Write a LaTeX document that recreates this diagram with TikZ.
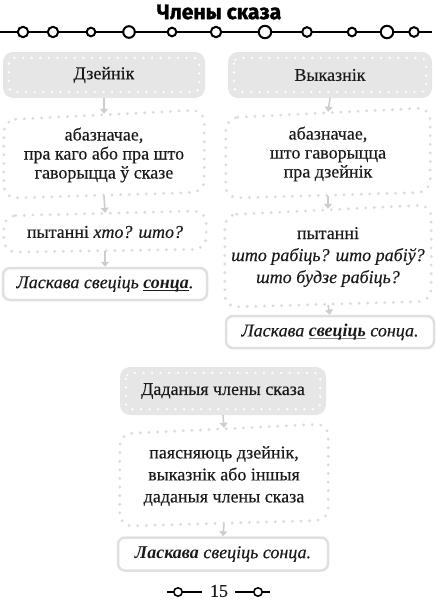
\documentclass[tikz,border=0pt]{standalone}
\usepackage{fontspec}
\setmainfont{Liberation Serif}[UprightFeatures={FakeBold=0.3},ItalicFeatures={FakeBold=0.3}]
\newfontfamily\titlefont[BoldFeatures={FakeBold=1.6}]{Fira Sans}
\usetikzlibrary{arrows.meta,calc}
\definecolor{hdrgray}{HTML}{E6E6E6}
\definecolor{dotgray}{HTML}{DCDCDC}
\definecolor{arrgray}{HTML}{CDCDCD}
\definecolor{solgray}{HTML}{E0E0E0}
\definecolor{txt}{HTML}{1A1A1A}
\definecolor{ulgray}{HTML}{8A8A8A}
\newcommand\myul[2]{\setbox0\hbox{#2}\leavevmode\rlap{\color{#1}\rule[-2.8pt]{\wd0}{1.4pt}}\box0\relax}
\begin{document}
\begin{tikzpicture}[x=1pt,y=-1pt,
  txtstyle/.style={font=\fontsize{18}{21}\selectfont, text=txt, align=center, inner sep=0pt},
  tight/.style={font=\fontsize{18}{19}\selectfont},
  loose/.style={font=\fontsize{18}{22}\selectfont},
  hdr/.style={txtstyle, fill=hdrgray, rounded corners=10pt, minimum width=#1, minimum height=46pt},
  hdrdots/.style={white, line width=2.6pt, line cap=round, dash pattern=on 0pt off 8.6pt, rounded corners=6pt},
  dotbox/.style={txtstyle, minimum width=#1},
  dotline/.style={dotgray, line width=3.2pt, line cap=round, dash pattern=on 0pt off 8.6pt, rounded corners=12pt},
  solbox/.style={txtstyle, draw=solgray, line width=2.5pt, rounded corners=7pt, fill=white, minimum width=#1, minimum height=32pt},
  arr/.style={arrgray, line width=1.6pt, -{Triangle[width=8pt,length=5pt]}},
  chain/.style={line width=2pt, black},
  ring/.style={line width=2pt, draw=black, fill=white}
]
\useasboundingbox (0,0) rectangle (438,600);

% title
\node[font=\titlefont\bfseries\fontsize{21}{22}\selectfont] (title) at (219,12) {Члены сказа};
\draw[chain] (0,32) -- (432,32);
\foreach \x/\r in {23/5.2,53/5.2,91/4.3,129/5.8,172/4.3,216/5.2,265/6.2,307/4.8,352/4.3,387/6.2,414/4.8}
  \draw[ring] (\x,32) circle[radius=\r pt];

% left column
\node[hdr=202pt] (h1) at (104,75) {Дзейнік};
\draw[hdrdots] ($(h1.north west)+(6,6)$) rectangle ($(h1.south east)+(-6,-6)$);
\node[dotbox=200pt, tight, minimum height=82pt] (b1) at (104,155) {абазначае,\\пра каго або пра што\\гаворыцца ў сказе};
\draw[dotline] ($(b1.north west)+(0,6)$) -- ($(b1.north east)+(0,-4)$) -- ($(b1.south east)+(0,-4)$) -- ($(b1.south west)+(0,2)$) -- cycle;
\node[dotbox=202pt, minimum height=38pt] (b2) at (105,232) {пытанні \textit{хто? што?}};
\draw[dotline] ($(b2.north west)+(0,3)$) -- ($(b2.north east)+(0,-2)$) -- ($(b2.south east)+(0,-2)$) -- ($(b2.south west)+(0,1)$) -- cycle;
\node[solbox=204pt] (s1) at (105,284) {\textit{Ласкава свеціць \myul{txt}{\textbf{сонца}}.}};
\draw[arr] (h1.south) -- (b1.north);
\draw[arr] (b1.south) -- (b2.north);
\draw[arr] (b2.south) -- (s1.north);

% right column
\node[hdr=204pt] (h2) at (330,75) {Выказнік};
\draw[hdrdots] ($(h2.north west)+(6,6)$) rectangle ($(h2.south east)+(-6,-6)$);
\node[dotbox=204pt, tight, minimum height=84pt] (b3) at (328,154) {абазначае,\\што гаворыцца\\пра дзейнік};
\draw[dotline] ($(b3.north west)+(0,6)$) -- ($(b3.north east)+(0,-4)$) -- ($(b3.south east)+(0,-4)$) -- ($(b3.south west)+(0,2)$) -- cycle;
\node[dotbox=206pt, loose, minimum height=96pt] (b4) at (328,257) {пытанні\\\textit{што рабіць? што рабіў?}\\\textit{што будзе рабіць?}};
\draw[dotline] ($(b4.north west)+(0,6)$) -- ($(b4.north east)+(0,-4)$) -- ($(b4.south east)+(0,-4)$) -- ($(b4.south west)+(0,2)$) -- cycle;
\node[solbox=208pt] (s2) at (330,332) {\textit{Ласкава \myul{ulgray}{\textbf{свеціць}} сонца.}};
\draw[arr] (h2.south) -- (b3.north);
\draw[arr] (b3.south) -- (b4.north);
\draw[arr] (b4.south) -- (s2.north);

% centre column
\node[hdr=206pt, minimum height=48pt] (h3) at (223,391) {Даданыя члены сказа};
\draw[hdrdots] ($(h3.north west)+(6,6)$) rectangle ($(h3.south east)+(-6,-6)$);
\node[dotbox=208pt, loose, minimum height=96pt] (b5) at (224,476) {паясняюць дзейнік,\\выказнік або іншыя\\даданыя члены сказа};
\draw[dotline] ($(b5.north west)+(0,6)$) -- ($(b5.north east)+(0,-4)$) -- ($(b5.south east)+(0,-4)$) -- ($(b5.south west)+(0,2)$) -- cycle;
\node[solbox=210pt, minimum height=33pt] (s3) at (223,554) {\textit{\textbf{Ласкава} свеціць сонца.}};
\draw[arr] (h3.south) -- (b5.north);
\draw[arr] (b5.south) -- (s3.north);

% footer
\node[txtstyle] (pg) at (219,591) {15};
\draw[chain, line width=1.5pt] (167,592) -- (202,592);
\draw[chain, line width=1.5pt] (235,592) -- (270,592);
\draw[ring, line width=1.5pt] (178,592) circle[radius=4.2pt];
\draw[ring, line width=1.5pt] (258,592) circle[radius=4.2pt];
\end{tikzpicture}
\end{document}
